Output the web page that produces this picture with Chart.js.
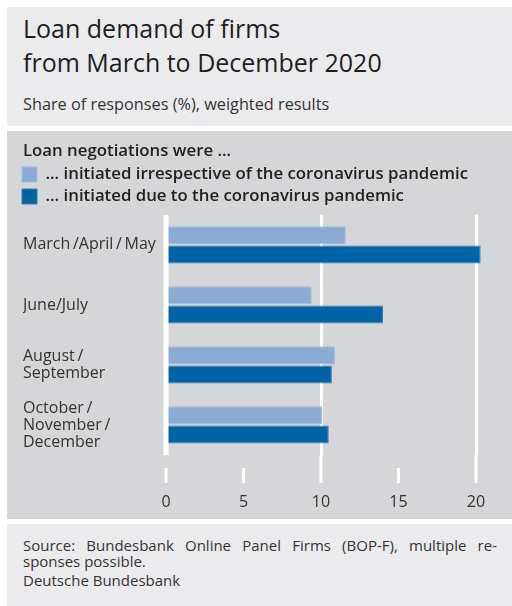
<!DOCTYPE html>
<html>
<head>
<meta charset="utf-8">
<script src="https://cdn.jsdelivr.net/npm/chart.js@4"></script>
<style>
  body { margin: 0; background: #fff; font-family: "Open Sans", sans-serif; color: #2b2b2b; }
  .box { position: absolute; left: 7px; width: 505px; }
  #head { top: 7px; height: 119px; background: #ebebed; }
  #head h1 { position: absolute; left: 16px; top: 4px; margin: 0; font-size: 25px; font-weight: normal; line-height: 34px; color: #1e1e1e; white-space: nowrap; }
  #head p { position: absolute; left: 16px; top: 87px; margin: 0; font-size: 16.3px; line-height: 20px; color: #333; }
  #panel { top: 131px; height: 388px; background: #d5d6d8; }
  #panel .legende { position: absolute; left: 16px; top: 8px; font-size: 16.8px; font-weight: 600; line-height: 22px; color: #222; }
  #foot { top: 524px; height: 82px; background: #ebebed; font-size: 15px; color: #333; }
  #foot .l1 { position: absolute; left: 16px; width: 474px; top: 11px; text-align: justify; text-align-last: justify; }
  #foot .l2 { position: absolute; left: 16px; top: 27px; }
  #foot .l3 { position: absolute; left: 16px; top: 46px; }
</style>
</head>
<body>
<div class="box" id="head">
  <h1>Loan demand of firms<br>from March to December 2020</h1>
  <p>Share of responses (%), weighted results</p>
</div>
<div class="box" id="panel">
  <canvas id="graphiqueBarres" width="505" height="388"></canvas>
  <div class="legende">Loan negotiations were ...</div>
</div>
<div class="box" id="foot">
  <div class="l1">Source: Bundesbank Online Panel Firms (BOP-F), multiple re-</div>
  <div class="l2">sponses possible.</div>
  <div class="l3">Deutsche Bundesbank</div>
</div>
<script>
// periodes et parts des reponses (%)
var periodes = [['March\u2009/April\u2009/\u2009May'], ['June/July'], ['August\u2009/', 'September'], ['October\u2009/', 'November\u2009/', 'December']];
var horsCorona = [11.6, 9.4, 10.9, 10.1];
var dueCorona = [20.3, 14.0, 10.7, 10.5];
var graduations = [0, 5, 10, 15, 20];

var label1 = '... initiated irrespective of the coronavirus pandemic';
var label2 = '... initiated due to the coronavirus pandemic';

// legende alignee sur le titre HTML
var decalageLegende = {
    id: 'decalageLegende',
    afterLayout: function(chart) {
        chart.legend.left = 9.8;
    }
};

// ligne zero et petits traits sous l'axe
var traitsAxe = {
    id: 'traitsAxe',
    afterDatasetsDraw: function(chart) {
        var ctx = chart.ctx;
        var area = chart.chartArea;
        var x = chart.scales.x;
        ctx.save();
        ctx.strokeStyle = '#ffffff';
        ctx.lineWidth = 5;
        ctx.beginPath();
        ctx.moveTo(x.getPixelForValue(0), area.top);
        ctx.lineTo(x.getPixelForValue(0), area.bottom);
        ctx.stroke();
        ctx.lineWidth = 3;
        graduations.forEach(function(v) {
            var px = x.getPixelForValue(v);
            var debut = (v % 10 === 0 && v > 0) ? area.bottom : area.bottom + 13;
            ctx.beginPath();
            ctx.moveTo(px, debut);
            ctx.lineTo(px, area.bottom + 28);
            ctx.stroke();
        });
        ctx.restore();
    }
};

var ctx = document.getElementById('graphiqueBarres').getContext('2d');
var barChart = new Chart(ctx, {
    type: 'bar',
    data: {
        labels: periodes,
        datasets: [{
            label: label1,
            data: horsCorona,
            backgroundColor: '#8aabd3',
            borderColor: '#a3bcdc',
            borderWidth: 1
        }, {
            label: label2,
            data: dueCorona,
            backgroundColor: '#0064a7',
            borderColor: '#3b7db3',
            borderWidth: 1
        }]
    },
    options: {
        indexAxis: 'y',
        responsive: false,
        animation: false,
        categoryPercentage: 0.64,
        barPercentage: 0.94,
        layout: { padding: { left: 16, right: 5, top: 29.9, bottom: 0 } },
        plugins: {
            tooltip: { enabled: false },
            legend: {
                position: 'top',
                align: 'start',
                labels: {
                    boxWidth: 15,
                    boxHeight: 15,
                    padding: 5.2,
                    color: '#222',
                    font: { family: 'Open Sans', size: 16.8, weight: '600' }
                }
            }
        },
        scales: {
            x: {
                min: 0,
                max: 22,
                afterBuildTicks: function(axis) {
                    axis.ticks = graduations.map(function(v) { return { value: v }; });
                },
                afterFit: function(axis) {
                    axis.height = 64;
                    axis.paddingLeft = 0;
                    axis.paddingRight = 0;
                },
                border: { display: false },
                grid: {
                    drawTicks: false,
                    lineWidth: 3,
                    color: function(c) {
                        return (c.tick && c.tick.value > 0 && c.tick.value % 10 === 0) ? '#ffffff' : 'rgba(0,0,0,0)';
                    }
                },
                ticks: {
                    padding: 38,
                    color: '#333',
                    font: { family: 'Open Sans', size: 16 }
                }
            },
            y: {
                afterFit: function(axis) { axis.width = 143; },
                border: { display: false },
                grid: { display: false },
                ticks: {
                    crossAlign: 'far',
                    color: '#333',
                    font: { family: 'Open Sans', size: 16, lineHeight: 1.06 }
                }
            }
        }
    },
    plugins: [decalageLegende, traitsAxe]
});
</script>
</body>
</html>
